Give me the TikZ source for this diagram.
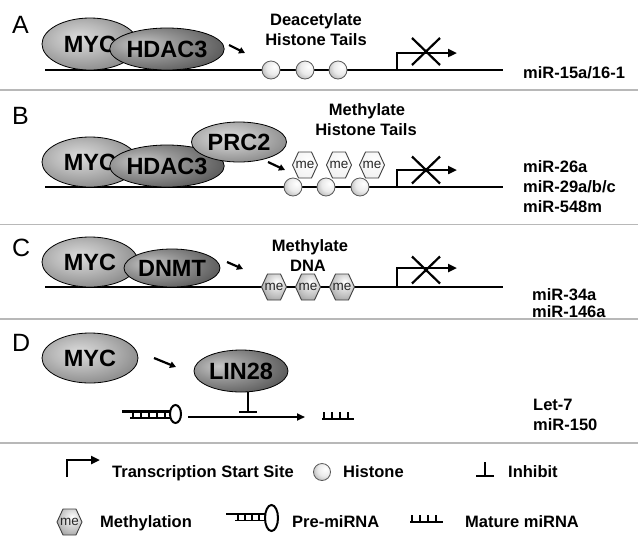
\documentclass[tikz,border=0pt]{standalone}
\usepackage{fontspec}
\setmainfont{Liberation Sans}
\usetikzlibrary{shapes.geometric,arrows.meta}
\pgfdeclareradialshading{lightshade}{\pgfpoint{-6bp}{6bp}}{color(0bp)=(black!14); color(15bp)=(black!28); color(35bp)=(black!50); color(50bp)=(black!68); color(90bp)=(black!75)}
\pgfdeclareradialshading{darkshade}{\pgfpoint{-12bp}{6bp}}{color(0bp)=(black!22); color(15bp)=(black!42); color(35bp)=(black!66); color(50bp)=(black!84); color(90bp)=(black!90)}
\pgfdeclareradialshading{histshade}{\pgfpoint{10bp}{10bp}}{color(0bp)=(white); color(20bp)=(black!8); color(45bp)=(black!40); color(90bp)=(black!55)}
\pgfdeclareradialshading{hexgray}{\pgfpoint{6bp}{10bp}}{color(0bp)=(white); color(25bp)=(black!25); color(50bp)=(black!55); color(90bp)=(black!60)}
\pgfdeclareradialshading{hexwhite}{\pgfpoint{6bp}{10bp}}{color(0bp)=(white); color(30bp)=(black!5); color(50bp)=(black!18); color(90bp)=(black!22)}
\begin{document}
\begin{tikzpicture}[x=1pt,y=-1pt,
  prot/.style={ellipse, draw=black, line width=0.8, inner sep=0, shade,
    font=\fontsize{23.5}{23.5}\selectfont\bfseries},
  lightprot/.style={prot, shading=lightshade},
  darkprot/.style={prot, shading=darkshade},
  histone/.style={circle, draw=black!65, line width=0.8, minimum size=18, inner sep=0, shade, shading=histshade},
  hextext/.style={inner sep=0, font=\fontsize{13.5}{13.5}\selectfont, text=black!85},
  hexW/.pic={\draw[black!75, line width=0.9, shade, shading=hexwhite] (-12.5,0) -- (-6.5,13) -- (6.5,13) -- (12.5,0) -- (6.5,-13) -- (-6.5,-13) -- cycle; \node[hextext] (-t) at (0,0) {me};},
  hexG/.pic={\draw[black!75, line width=0.9, shade, shading=hexgray] (-12.5,0) -- (-6.5,13) -- (6.5,13) -- (12.5,0) -- (6.5,-13) -- (-6.5,-13) -- cycle; \node[hextext] (-t) at (0,0) {me};},
  dna/.style={draw=black, line width=2.6},
  tss/.style={draw=black, line width=2.4, -{Triangle[length=9,width=8]}},
  cross/.style={draw=black, line width=2.2},
  smallarrow/.style={draw=black, line width=2.2, -{Triangle[length=6,width=6.5]}},
  lab/.style={inner sep=0, anchor=base west, font=\fontsize{16.5}{20}\selectfont\bfseries},
  ttl/.style={inner sep=0, anchor=base, font=\fontsize{16.5}{20}\selectfont\bfseries},
  letter/.style={inner sep=0, anchor=base west, font=\fontsize{25}{25}\selectfont},
  sep/.style={draw=black!28, line width=1.8},
  inhib/.style={draw=black, line width=2.2, -{Bar[width=18,line width=2.2]}}
]
\useasboundingbox (0,0) rectangle (638,547);
\fill[white] (0,0) rectangle (638,547);
% separators
\draw[sep] (0,90) -- (638,90);
\draw[sep] (0,224.5) -- (638,224.5);
\draw[sep] (0,319) -- (638,319);
\draw[sep] (0,443) -- (638,443);

% ---------- Panel A ----------
\node[letter] (LA) at (12,33) {A};
\coordinate (a0) at (45,70); \coordinate (a1) at (503,70);
\draw[dna] (a0) -- (a1);
\node[lightprot, minimum width=96, minimum height=52] (mycA) at (90,44) {MYC};
\node[darkprot, minimum width=94, minimum height=42] (hdacA) at (167,49) {HDAC3};
\coordinate (sa0) at (229,45); \coordinate (sa1) at (245,53);
\draw[smallarrow] (sa0) -- (sa1);
\node[ttl] (tA1) at (316,25) {Deacetylate};
\node[ttl] (tA2) at (316,45) {Histone Tails};
\node[histone] (hA1) at (271,70) {};
\node[histone] (hA2) at (305,70) {};
\node[histone] (hA3) at (338,70) {};
\coordinate (pA0) at (397,70); \coordinate (pA1) at (397,53); \coordinate (pA2) at (457,53);
\draw[tss] (pA0) -- (pA1) -- (pA2);
\coordinate (xA) at (426,51.5);
\draw[cross] (xA) +(-14,-13.5) -- +(14,13.5) (xA) +(-14,13.5) -- +(14,-13.5);
\node[lab] (mA) at (523,78) {miR-15a/16-1};

% ---------- Panel B ----------
\node[letter] (LB) at (12,124) {B};
\coordinate (b0) at (45,187); \coordinate (b1) at (503,187);
\draw[dna] (b0) -- (b1);
\node[lightprot, minimum width=96, minimum height=50] (mycB) at (90,162) {MYC};
\node[darkprot, minimum width=94, minimum height=42] (hdacB) at (167,166) {HDAC3};
\node[lightprot, minimum width=95, minimum height=40] (prcB) at (239,142) {PRC2};
\coordinate (sb0) at (268,162); \coordinate (sb1) at (285,170);
\draw[smallarrow] (sb0) -- (sb1);
\node[ttl] (tB1) at (367,115) {Methylate};
\node[ttl] (tB2) at (366,135) {Histone Tails};
\node[histone] (hB1) at (293,187) {};
\node[histone] (hB2) at (326,187) {};
\node[histone] (hB3) at (360,187) {};
\pic (eB1) at (305,165) {hexW};
\pic (eB2) at (339,165) {hexW};
\pic (eB3) at (372,165) {hexW};
\coordinate (pB0) at (397,187); \coordinate (pB1) at (397,170); \coordinate (pB2) at (457,170);
\draw[tss] (pB0) -- (pB1) -- (pB2);
\coordinate (xB) at (426,170);
\draw[cross] (xB) +(-14,-13.5) -- +(14,13.5) (xB) +(-14,13.5) -- +(14,-13.5);
\node[lab] (mB1) at (523,172) {miR-26a};
\node[lab] (mB2) at (523,192) {miR-29a/b/c};
\node[lab] (mB3) at (523,212) {miR-548m};

% ---------- Panel C ----------
\node[letter] (LC) at (12,256) {C};
\coordinate (c0) at (45,287); \coordinate (c1) at (503,287);
\draw[dna] (c0) -- (c1);
\node[lightprot, minimum width=96, minimum height=50] (mycC) at (90,262) {MYC};
\node[darkprot, minimum width=94, minimum height=38] (dnmtC) at (172,268) {DNMT};
\coordinate (sc0) at (227,262); \coordinate (sc1) at (243,269);
\draw[smallarrow] (sc0) -- (sc1);
\node[ttl] (tC1) at (310,251) {Methylate};
\node[ttl] (tC2) at (308,271) {DNA};
\pic (eC1) at (274,287) {hexG};
\pic (eC2) at (308,287) {hexG};
\pic (eC3) at (342,287) {hexG};
\coordinate (pC0) at (397,287); \coordinate (pC1) at (397,268); \coordinate (pC2) at (457,268);
\draw[tss] (pC0) -- (pC1) -- (pC2);
\coordinate (xC) at (426,270);
\draw[cross] (xC) +(-14,-13.5) -- +(14,13.5) (xC) +(-14,13.5) -- +(14,-13.5);
\node[lab] (mC1) at (532,300) {miR-34a};
\node[lab] (mC2) at (532,317) {miR-146a};

% ---------- Panel D ----------
\node[letter] (LD) at (12,351) {D};
\node[lightprot, minimum width=96, minimum height=50] (mycD) at (90,358) {MYC};
\node[darkprot, minimum width=94, minimum height=42] (linD) at (241,371) {LIN28};
\coordinate (sd0) at (154,358); \coordinate (sd1) at (176,367);
\draw[smallarrow] (sd0) -- (sd1);
\coordinate (iD0) at (248,392); \coordinate (iD1) at (248,413);
\draw[inhib] (iD0) -- (iD1);
% pre-miRNA
\draw[black, line width=2.4] (122,411.5) -- (170,411.5);
\draw[black, line width=1.8] (130,418) -- (170,418);
\foreach \rx in {133,141,149,157,165} \draw[black, line width=1.5] (\rx,411.5) -- (\rx,418);
\draw[black, line width=2] (175.5,414) ellipse [x radius=5.5, y radius=9];
\coordinate (rD0) at (188,417); \coordinate (rD1) at (305,417);
\draw[black, line width=1.8, -{Triangle[length=8,width=7]}] (rD0) -- (rD1);
% mature
\draw[black, line width=2] (322,419) -- (354,419);
\foreach \rx in {324,332,340,348} \draw[black, line width=1.5] (\rx,419) -- (\rx,412);
\node[lab] (mD1) at (533,410) {Let-7};
\node[lab] (mD2) at (533,430) {miR-150};

% ---------- Legend ----------
\coordinate (gT0) at (67,477); \coordinate (gT1) at (67,460); \coordinate (gT2) at (100,460);
\draw[tss] (gT0) -- (gT1) -- (gT2);
\node[lab] (gT) at (112,477) {Transcription Start Site};
\node[histone, minimum size=17] (gH) at (322,472) {};
\node[lab] (gHt) at (343,477) {Histone};
\coordinate (gI0) at (485,462); \coordinate (gI1) at (485,477);
\draw[inhib] (gI0) -- (gI1);
\node[lab] (gIt) at (508,477) {Inhibit};
\pic (gM) at (69.5,522) {hexG};
\node[lab] (gMt) at (100,527) {Methylation};
\draw[black, line width=2.4] (226,514) -- (265,514);
\draw[black, line width=1.8] (235,520.5) -- (265,520.5);
\foreach \rx in {238,245,252,259} \draw[black, line width=1.5] (\rx,514) -- (\rx,520.5);
\draw[black, line width=2] (271.5,518) ellipse [x radius=6.5, y radius=13];
\node[lab] (gPt) at (292,527) {Pre-miRNA};
\draw[black, line width=2] (410,522) -- (443,522);
\foreach \rx in {412,420,428,436} \draw[black, line width=1.5] (\rx,522) -- (\rx,515);
\node[lab] (gRt) at (465,527) {Mature miRNA};
\end{tikzpicture}
\end{document}
